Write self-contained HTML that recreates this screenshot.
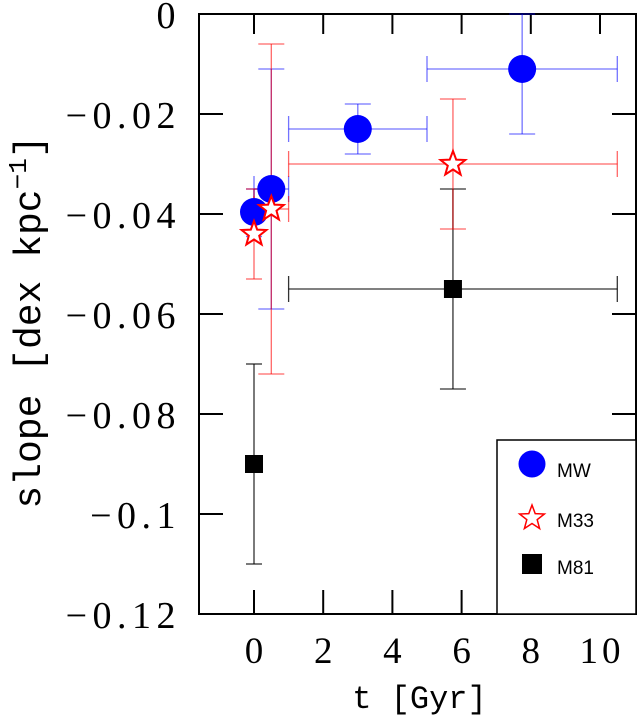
<!DOCTYPE html>
<html><head><meta charset="utf-8"><style>
html,body{margin:0;padding:0;background:#fff;}
svg{display:block;font-family:"Liberation Sans",sans-serif;}
</style></head><body>
<svg id="chart" width="638" height="725" viewBox="0 0 638 725" xmlns="http://www.w3.org/2000/svg"></svg>
<script>
const xTicks=[0,2,4,6,8,10];
const yTicks=[0,-0.02,-0.04,-0.06,-0.08,-0.1,-0.12];
const yTickLabels=["0","\u22120.02","\u22120.04","\u22120.06","\u22120.08","\u22120.1","\u22120.12"];
// MW
const mwT=[0,0.5,3,7.75];
const mwSlope=[-0.0396,-0.035,-0.023,-0.011];
const mwTlo=[0,0,1,5];
const mwThi=[0,1,5,10.5];
const mwSlo=[-0.0445,-0.059,-0.028,-0.024];
const mwShi=[-0.035,-0.011,-0.018,0];
// M33
const m33T=[0,0.5,5.75];
const m33Slope=[-0.044,-0.039,-0.030];
const m33Tlo=[0,0,1];
const m33Thi=[0,1,10.5];
const m33Slo=[-0.053,-0.072,-0.043];
const m33Shi=[-0.035,-0.006,-0.017];
// M81
const m81T=[0,5.75];
const m81Slope=[-0.090,-0.055];
const m81Tlo=[0,1];
const m81Thi=[0,10.5];
const m81Slo=[-0.110,-0.075];
const m81Shi=[-0.070,-0.035];

const L=199,R=636,T=14,B=614;
const x=v=>254+v*34.6;
const y=v=>T+(-v)/0.12*(B-T);
const svg=document.getElementById('chart');
const NS="http://www.w3.org/2000/svg";
function mk(tag,attrs,parent){const e=document.createElementNS(NS,tag);for(const k in attrs)e.setAttribute(k,attrs[k]);(parent||svg).appendChild(e);return e;}
const TF='Liberation Serif, serif';

const frame=mk('rect',{x:L,y:T,width:R-L,height:B-T,fill:'none',stroke:'#000','stroke-width':2});


xTicks.forEach(v=>{
  const t1=mk('line',{x1:x(v),x2:x(v),y1:B,y2:B-24,stroke:'#000','stroke-width':2});
  
  
  mk('line',{x1:x(v),x2:x(v),y1:T,y2:T+20,stroke:'#000','stroke-width':2});
  const tx=mk('text',{x:x(v)+2,y:B+49,'font-size':37,'text-anchor':'middle','font-family':TF,'letter-spacing':4});
  tx.textContent=String(v);
  
  
});
yTicks.forEach((v,i)=>{
  const t1=mk('line',{x1:L,x2:L+24,y1:y(v),y2:y(v),stroke:'#000','stroke-width':2});
  
  
  mk('line',{x1:R,x2:R-24,y1:y(v),y2:y(v),stroke:'#000','stroke-width':2});
  const tx=mk('text',{x:181,y:y(v)+14,'font-size':38,'text-anchor':'end','font-family':TF,'letter-spacing':5.5});
  tx.textContent=yTickLabels[i];
  
  
});
const xt=mk('text',{x:(L+R)/2+2,y:708,'font-size':32,'text-anchor':'middle','font-family':'Liberation Mono, monospace'});
xt.textContent='t [Gyr]';


const yt=mk('text',{x:0,y:0,'font-size':38,'text-anchor':'middle','font-family':'Liberation Mono, monospace',transform:'translate(40,322) rotate(-90)'});
yt.innerHTML='slope [dex kpc<tspan dy="-14" font-size="26">\u22121</tspan><tspan dy="14">]</tspan>';



function errbars(ts,ss,tlo,thi,slo,shi,color,op,name){
  for(let i=0;i<ts.length;i++){
    const g=mk('g',{stroke:color,'stroke-opacity':op,'stroke-width':1.3,fill:'none'});
    
    
    const cx=x(ts[i]),cy=y(ss[i]);
    const cw=(thi[i]>tlo[i])?13:8;
    mk('line',{x1:cx,x2:cx,y1:y(slo[i]),y2:y(shi[i])},g);
    mk('line',{x1:cx-cw,x2:cx+cw,y1:y(slo[i]),y2:y(slo[i])},g);
    mk('line',{x1:cx-cw,x2:cx+cw,y1:y(shi[i]),y2:y(shi[i])},g);
    if(thi[i]>tlo[i]){
      mk('line',{x1:x(tlo[i]),x2:x(thi[i]),y1:cy,y2:cy},g);
      mk('line',{x1:x(tlo[i]),x2:x(tlo[i]),y1:cy-13,y2:cy+13},g);
      mk('line',{x1:x(thi[i]),x2:x(thi[i]),y1:cy-13,y2:cy+13},g);
    }
  }
}
function starPath(cx,cy,r){let p='';for(let k=0;k<10;k++){const rr=k%2?r*0.42:r;const a=-Math.PI/2+k*Math.PI/5;p+=(k?'L':'M')+(cx+rr*Math.cos(a)).toFixed(1)+','+(cy+rr*Math.sin(a)).toFixed(1);}return p+'Z';}

errbars(m81T,m81Slope,m81Tlo,m81Thi,m81Slo,m81Shi,'#000',0.8,'m81');
errbars(mwT,mwSlope,mwTlo,mwThi,mwSlo,mwShi,'#0000ff',0.55,'mw');
errbars(m33T,m33Slope,m33Tlo,m33Thi,m33Slo,m33Shi,'#ff0000',0.6,'m33');
m81T.forEach((t,i)=>{
  const r=mk('rect',{x:x(t)-9,y:y(m81Slope[i])-9,width:18,height:18,fill:'#000'});
  
  
});
mwT.forEach((t,i)=>{
  const c=mk('circle',{cx:x(t),cy:y(mwSlope[i]),r:14,fill:'#0000ff'});
  
  
});
m33T.forEach((t,i)=>{
  const s=mk('path',{d:starPath(x(t),y(m33Slope[i]),13),fill:'#fff',stroke:'#ff0000','stroke-width':2});
  
  
});

const lg=mk('g',{});


mk('rect',{x:497,y:440,width:R-497,height:B-440,fill:'#fff',stroke:'#000','stroke-width':1.5},lg);
const e1=mk('circle',{cx:532,cy:464,r:13.5,fill:'#0000ff'},lg);


const e2=mk('path',{d:starPath(532,518,13),fill:'#fff',stroke:'#ff0000','stroke-width':1.5},lg);


const e3=mk('rect',{x:522,y:554,width:20,height:20,fill:'#000'},lg);


[['MW',477],['M33',527],['M81',574]].forEach(([s,yy])=>{
  const t=mk('text',{x:557,y:yy,'font-size':19},lg);
  t.textContent=s;
  
  
});
</script>
</body></html>
